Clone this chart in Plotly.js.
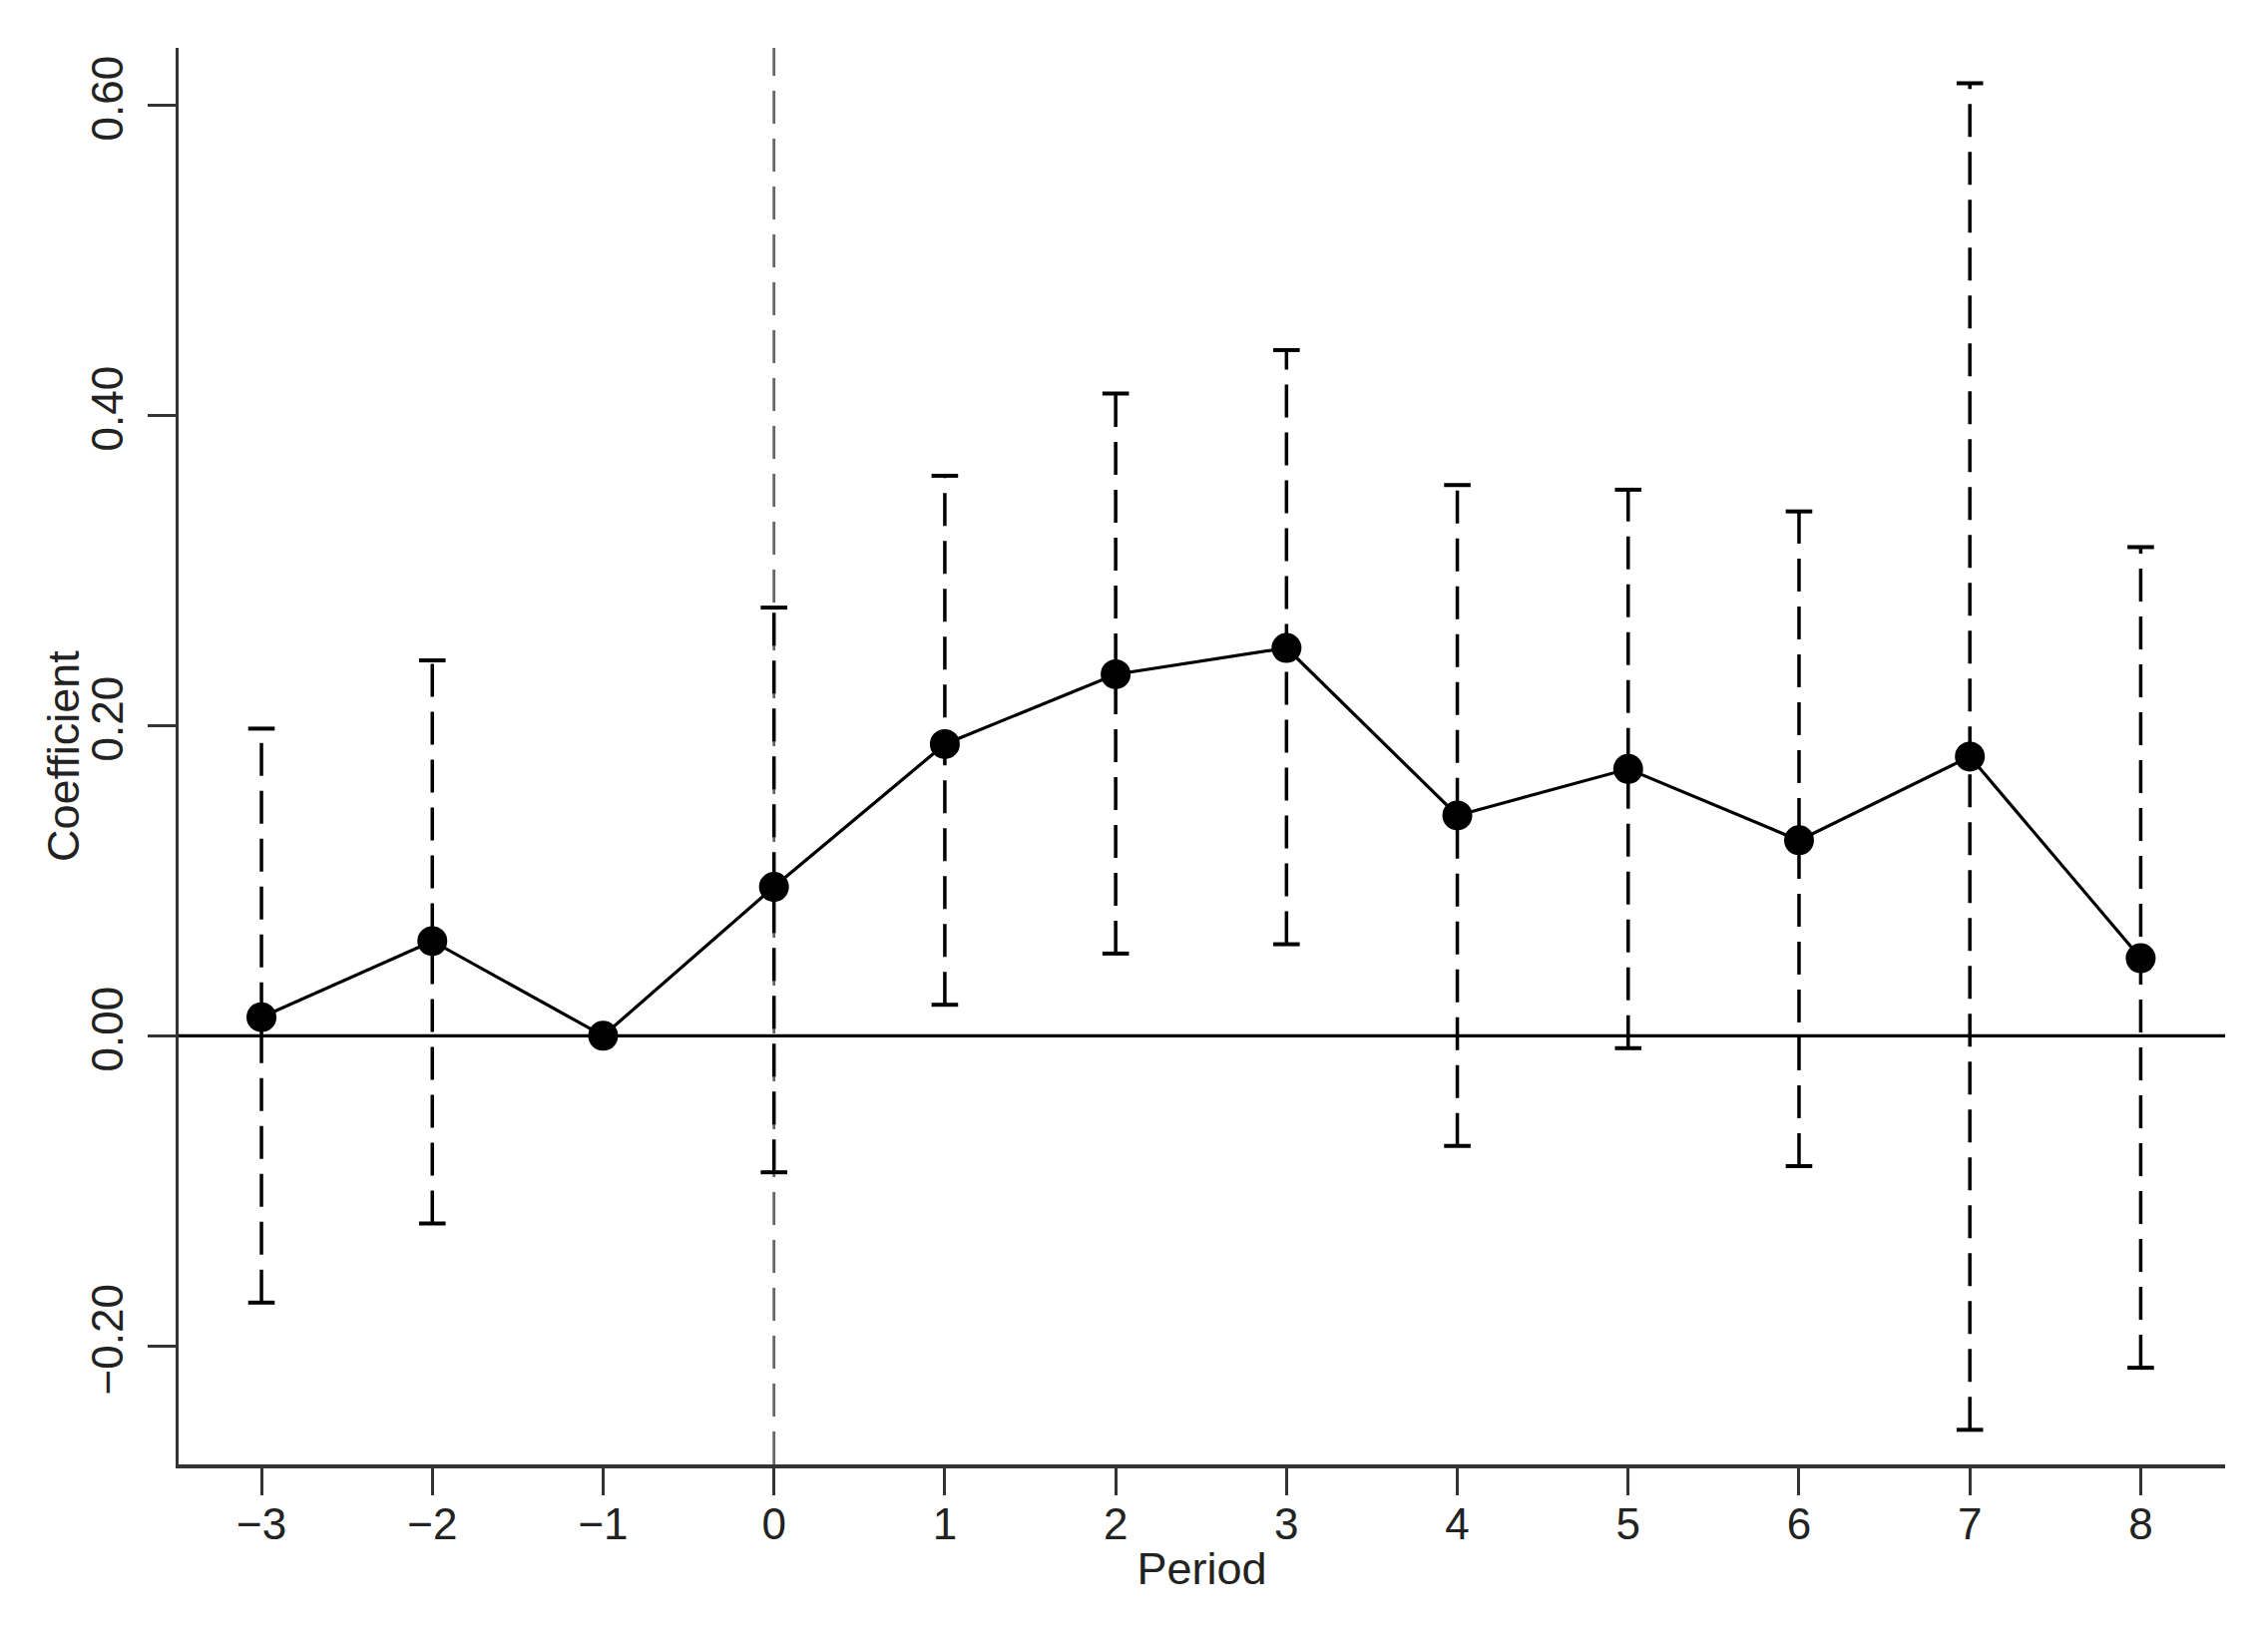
<!DOCTYPE html>
<html>
<head>
<meta charset="utf-8">
<script src="https://cdn.plot.ly/plotly-3.0.1.min.js"></script>
<style>
  html, body { margin: 0; padding: 0; background: #ffffff; }
  #chart { width: 2273px; height: 1634px; }
</style>
</head>
<body>
<div id="chart"></div>
<script>
// ---- Data ----
const periods = [-3, -2, -1, 0, 1, 2, 3, 4, 5, 6, 7, 8];
const coef    = [0.012, 0.061, 0.000, 0.096, 0.188, 0.233, 0.250, 0.142, 0.172, 0.126, 0.180, 0.050];
const ciLow   = [-0.172, -0.121, null, -0.088, 0.020, 0.053, 0.059, -0.071, -0.008, -0.084, -0.254, -0.214];
const ciHigh  = [0.198, 0.242, null, 0.276, 0.361, 0.414, 0.442, 0.355, 0.352, 0.338, 0.614, 0.315];
const xTickLabels = ['\u22123', '\u22122', '\u22121', '0', '1', '2', '3', '4', '5', '6', '7', '8'];
const yTickVals   = [-0.2, 0.0, 0.2, 0.4, 0.6];
const yTickLabels = ['\u22120.20', '0.00', '0.20', '0.40', '0.60'];
const xTitle = 'Period';
const yTitle = 'Coefficient';
const eventPeriod = 0;

// ---- Build traces from the data ----
const ciX = [], ciY = [];
const capX = [], capY = [];
periods.forEach((p, i) => {
  if (ciLow[i] === null || ciHigh[i] === null) return;
  ciX.push(p, p, null);
  ciY.push(ciLow[i], ciHigh[i], null);
  capX.push(p, p);
  capY.push(ciLow[i], ciHigh[i]);
});

const FONT = '"Liberation Sans", Arial, Helvetica, sans-serif';

const traces = [
  {
    type: 'scatter', mode: 'lines',
    x: ciX, y: ciY,
    line: { color: '#000000', width: 3.5, dash: '33px,15px' },
    connectgaps: false, hoverinfo: 'skip', showlegend: false
  },
  {
    type: 'scatter', mode: 'markers',
    x: capX, y: capY,
    marker: { symbol: 'line-ew', size: 19, color: '#000000',
              line: { color: '#000000', width: 4 } },
    hoverinfo: 'skip', showlegend: false
  },
  {
    type: 'scatter', mode: 'lines+markers',
    x: periods, y: coef,
    line: { color: '#000000', width: 3.2 },
    marker: { symbol: 'circle', size: 30, color: '#000000', line: { width: 0 } },
    showlegend: false
  }
];

const layout = {
  width: 2273, height: 1634,
  margin: { l: 179, r: 43, t: 48, b: 166, pad: 0 },
  paper_bgcolor: '#ffffff', plot_bgcolor: '#ffffff',
  font: { family: FONT, size: 44, color: '#222222' },
  showlegend: false,
  xaxis: {
    range: [-3.485, 8.494],
    tickmode: 'array', tickvals: periods, ticktext: xTickLabels,
    ticks: 'outside', ticklen: 27, tickwidth: 3, tickcolor: '#333333',
    ticklabelstandoff: -8,
    showline: true, linecolor: '#333333', linewidth: 3.5, mirror: false,
    showgrid: false, zeroline: false,
    tickfont: { family: FONT, size: 44, color: '#222222' },
    title: { text: xTitle, font: { family: FONT, size: 45, color: '#222222' }, standoff: 6 },
    automargin: false
  },
  yaxis: {
    range: [-0.2763, 0.6368],
    tickmode: 'array', tickvals: yTickVals, ticktext: yTickLabels,
    tickangle: -90,
    ticks: 'outside', ticklen: 28, tickwidth: 3, tickcolor: '#333333',
    ticklabelstandoff: 7,
    showline: true, linecolor: '#333333', linewidth: 3.5, mirror: false,
    showgrid: false, zeroline: false,
    tickfont: { family: FONT, size: 44, color: '#222222' },
    automargin: false
  },
  annotations: [
    { text: yTitle, xref: 'paper', yref: 'paper', x: 0, y: 0.5,
      xanchor: 'center', yanchor: 'middle', xshift: -116, textangle: -90,
      showarrow: false, font: { family: FONT, size: 45, color: '#222222' } }
  ],
  shapes: [
    { type: 'line', xref: 'x', yref: 'paper', x0: eventPeriod, x1: eventPeriod, y0: 0, y1: 1,
      line: { color: '#666666', width: 2.8, dash: '33px,15px' }, layer: 'below' },
    { type: 'line', xref: 'paper', yref: 'y', x0: 0, x1: 1, y0: 0, y1: 0,
      line: { color: '#000000', width: 3.2 }, layer: 'below' }
  ]
};

Plotly.newPlot('chart', traces, layout, { displayModeBar: false, staticPlot: true });
</script>
</body>
</html>
